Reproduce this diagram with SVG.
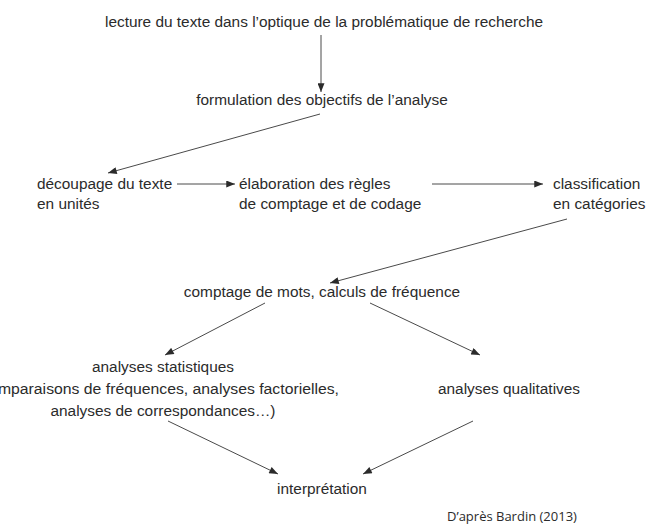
<svg xmlns="http://www.w3.org/2000/svg" width="656" height="527" viewBox="0 0 656 527">
<style>
text{font-family:"Liberation Sans",Arial,sans-serif;font-size:15.4px;fill:#2b2b2b}
.c{text-anchor:middle}
.e{stroke:#4a4a4a;stroke-width:1;fill:none;marker-end:url(#ah)}
.src{font-family:"Open Sans","Noto Sans",sans-serif;font-size:13px}
</style>
<defs>
<marker id="ah" viewBox="0 0 10 8" refX="10" refY="4" markerWidth="10" markerHeight="7" markerUnits="userSpaceOnUse" orient="auto">
<path d="M0,0 L10,4 L0,8 z" fill="#2b2b2b"/>
</marker>
</defs>
<rect width="656" height="527" fill="#fff"/>
<g id="n1"><text class="c" x="324" y="27">lecture du texte dans l’optique de la problématique de recherche</text></g>
<g id="n2"><text class="c" x="322" y="105">formulation des objectifs de l’analyse</text></g>
<g id="n3"><text x="37" y="189">découpage du texte</text><text x="37" y="209">en unités</text></g>
<g id="n4"><text x="239" y="189">élaboration des règles</text><text x="239" y="209">de comptage et de codage</text></g>
<g id="n5"><text x="553" y="189">classification</text><text x="553" y="209">en catégories</text></g>
<g id="n6"><text class="c" x="322" y="297">comptage de mots, calculs de fréquence</text></g>
<g id="n7"><text class="c" x="163" y="372">analyses statistiques</text><text x="-24" y="394" textLength="363" lengthAdjust="spacingAndGlyphs">(comparaisons de fréquences, analyses factorielles,</text><text class="c" x="163" y="416">analyses de correspondances…)</text></g>
<g id="n8"><text class="c" x="509" y="394">analyses qualitatives</text></g>
<g id="n9"><text class="c" x="322" y="494">interprétation</text></g>
<g id="src"><text class="src" x="447" y="521">D’après Bardin (2013)</text></g>
<g id="edges">
<line class="e" x1="321" y1="35" x2="321" y2="92"/>
<line class="e" x1="320" y1="114" x2="108" y2="173"/>
<line class="e" x1="177" y1="184" x2="235" y2="184"/>
<line class="e" x1="432" y1="184" x2="543" y2="184"/>
<line class="e" x1="567" y1="219" x2="330" y2="283"/>
<line class="e" x1="265" y1="303" x2="165" y2="355"/>
<line class="e" x1="370" y1="303" x2="480" y2="355"/>
<line class="e" x1="168" y1="421" x2="278" y2="474"/>
<line class="e" x1="473" y1="421" x2="363" y2="474"/>
</g>
</svg>
